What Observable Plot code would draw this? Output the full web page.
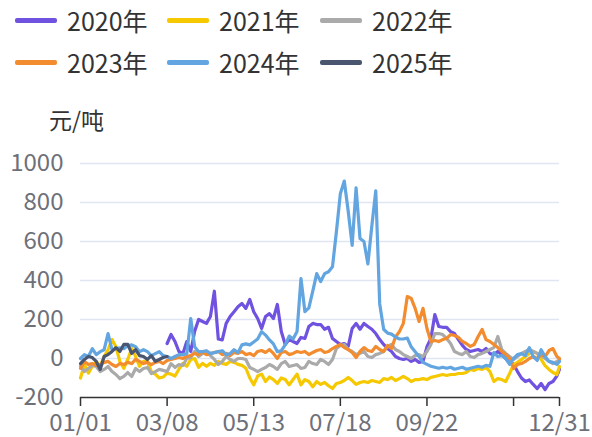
<!DOCTYPE html>
<html><head><meta charset="utf-8">
<script src="https://cdn.jsdelivr.net/npm/d3@7"></script>
<script src="https://cdn.jsdelivr.net/npm/@observablehq/plot@0.6"></script>
<style>
body{margin:0;background:#fff;font-family:"Noto Sans CJK SC","Noto Sans",sans-serif;}
#legend{position:relative;width:592px;height:90px;}
.item{position:absolute;display:flex;align-items:center;height:30px;font-size:25px;color:#333;white-space:nowrap;}
.sw{width:42px;height:5px;border-radius:2px;margin-right:10px;}
</style></head><body>
<div id="legend"></div><div id="chart"></div>
<script>
const seriesNames = ["2020年","2021年","2022年","2023年","2024年","2025年"];
const seriesColors = ["#7052e0","#f5c800","#aaaaaa","#f28c2e","#62a5e0","#4a5670"];
const tickDays = [0,66,132,198,264,330,365];
const tickLabels = ["01/01","03/08","05/13","07/18","09/22","","12/31"];
const yTicks = [-200,0,200,400,600,800,1000];
const unitLabel = "元/吨";

// values sampled every 3 days from the start day; last value is 12/31
const start2020 = 66;
const v2020 = [
77,123,87,36,25,87,36,140,200,190,
180,215,345,100,95,180,215,240,265,282,
257,303,240,205,154,215,230,205,277,138,
72,97,87,77,108,103,164,180,174,174,
150,160,103,87,72,77,62,154,180,150,
180,164,150,128,97,72,51,36,10,0,
-5,0,-15,-5,-20,-15,60,103,225,164,
160,160,138,128,97,67,46,36,41,46,
36,51,25,20,36,20,0,-15,-30,-67,
-100,-118,-110,-133,-154,-128,-160,-128,-118,-90,
-55];
const start2021 = 0;
const v2021 = [
-100,-30,-75,-40,-15,-40,10,45,97,60,
-15,-50,-5,51,10,-40,-15,-15,-67,-80,
-100,-95,-75,-80,-90,-55,-25,-40,-5,0,
-45,-25,-40,-25,-35,-15,-25,-30,-15,-20,
-30,-35,-50,-100,-135,-90,-80,-118,-95,-108,
-128,-100,-108,-135,-108,-80,-135,-108,-118,-145,
-118,-133,-123,-140,-154,-128,-123,-113,-97,-113,
-133,-123,-118,-123,-113,-118,-123,-103,-108,-97,
-113,-103,-92,-103,-118,-108,-108,-103,-108,-97,
-92,-87,-82,-87,-82,-82,-77,-77,-72,-56,
-61,-51,-56,-46,-67,-118,-103,-108,-118,-77,
-31,-20,-5,10,26,36,26,-5,-36,-56,
-72,-82,-41];
const start2022 = 0;
const v2022 = [
-40,-67,-51,-36,-41,-67,-56,-41,-67,-82,
-103,-92,-72,-92,-51,-67,-51,-46,-77,-67,
-56,-61,-67,-26,-46,-31,-36,0,5,36,
10,26,36,15,-5,-31,-15,10,-5,-15,
0,0,-5,-46,-56,-67,-56,-46,-31,-41,
-56,-26,-15,-41,-36,-31,-51,-46,-15,-26,
-31,-5,-15,-31,-5,51,67,72,46,36,
20,26,36,10,5,20,26,36,62,72,
46,36,20,10,0,15,20,10,36,72,
128,128,123,103,77,36,26,20,36,10,
5,20,26,36,46,56,113,46,26,10,
-5,10,26,36,46,36,26,15,0,-15,
-26,-15,-5];
const start2023 = 0;
const v2023 = [
-51,-15,-31,-26,-36,-31,-20,-15,-31,-41,
-26,-31,-20,-26,-5,-15,-26,-20,-31,-20,
-15,-26,-10,-5,0,5,0,10,15,26,
20,31,20,26,31,36,20,26,15,31,
26,36,20,26,15,36,41,31,46,26,
0,31,36,20,26,36,31,36,20,31,
41,46,31,36,51,62,72,56,46,31,
5,36,56,41,36,62,46,36,67,51,
110,138,180,318,308,257,190,257,154,87,
92,87,97,103,123,118,108,87,77,62,
72,113,149,97,87,72,56,36,20,0,
-51,-31,-26,-15,0,10,0,20,10,41,
51,10,0];
const start2024 = 0;
const v2024 = [
0,20,10,50,20,35,45,128,45,50,
55,50,65,70,60,35,45,35,15,25,
35,15,10,0,10,20,20,25,205,60,
35,35,40,25,30,35,40,20,25,45,
30,70,75,70,85,100,138,120,95,75,
35,40,70,115,100,138,410,240,260,345,
435,395,435,445,470,650,845,910,755,580,
875,615,600,485,680,860,280,150,130,125,
110,100,100,105,60,35,10,-20,-30,-40,
-45,-50,-45,-50,-45,-55,-50,-45,-55,-50,
-45,-40,-45,-35,-40,30,10,15,0,-30,
0,20,25,15,55,10,-10,45,10,-15,
-20,-30,-15];
const start2025 = 0;
const v2025 = [
-26,-5,10,5,-15,-56,10,20,36,56,
36,72,72,26,46,15,10,-5,15,-15,
-5,5,10];

const rows = [];
function addSeries(name, start, values) {
  values.forEach((v, i) => rows.push({series: name, day: Math.min(start + 3 * i, 365), value: v}));
}
addSeries(seriesNames[0], start2020, v2020);
addSeries(seriesNames[1], start2021, v2021);
addSeries(seriesNames[2], start2022, v2022);
addSeries(seriesNames[3], start2023, v2023);
addSeries(seriesNames[4], start2024, v2024);
addSeries(seriesNames[5], start2025, v2025);

// legend
const legend = document.getElementById("legend");
const lefts = [15, 167, 320];
const tops = [5, 47];
seriesNames.forEach((n, i) => {
  const it = document.createElement("div");
  it.className = "item";
  it.style.left = lefts[i % 3] + "px";
  it.style.top = tops[Math.floor(i / 3)] + "px";
  const sw = document.createElement("div");
  sw.className = "sw";
  sw.style.background = seriesColors[i];
  const tx = document.createElement("span");
  tx.textContent = n;
  it.appendChild(sw); it.appendChild(tx);
  legend.appendChild(it);
});

const labelMap = new Map(tickDays.map((d, i) => [d, tickLabels[i]]));

const chart = Plot.plot({
  width: 592, height: 347,
  marginTop: 73, marginBottom: 40, marginLeft: 80, marginRight: 33,
  style: {fontFamily: '"Noto Sans CJK SC","Noto Sans",sans-serif', fontSize: "24px", background: "#fff"},
  x: {type: "linear", domain: [0, 365]},
  y: {type: "linear", domain: [-200, 1000]},
  color: {domain: seriesNames, range: seriesColors},
  marks: [
    Plot.gridY(yTicks.filter(d => d > -200), {stroke: "#e0e6f1", strokeOpacity: 1, strokeWidth: 1.5}),
    Plot.axisY(yTicks, {tickSize: 0, tickPadding: 17, fill: "#6e7079", label: null, tickFormat: d => String(d)}),
    Plot.line(rows, {x: "day", y: "value", z: "series", stroke: "series", strokeWidth: 3.2, strokeLinejoin: "round"}),
    Plot.ruleY([-200], {stroke: "#333", strokeWidth: 1.5}),
    Plot.axisX(tickDays, {tickSize: 9, tickPadding: 7, stroke: "#333", strokeWidth: 1.5, fill: "#6e7079", label: null, tickFormat: d => labelMap.get(d)}),
    Plot.text([unitLabel], {frameAnchor: "top-left", dx: -4, dy: -51, textAnchor: "middle", fill: "#333", fontSize: 23})
  ]
});
document.getElementById("chart").appendChild(chart);
</script>
</body></html>
